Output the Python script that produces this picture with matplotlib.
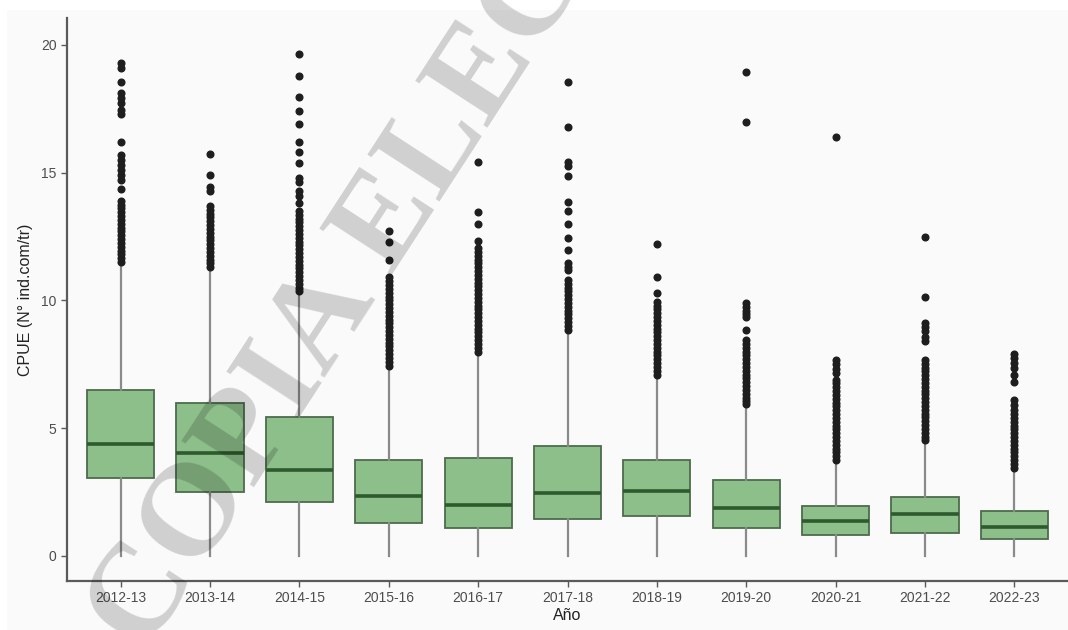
import matplotlib
matplotlib.use("Agg")
import matplotlib.pyplot as plt
from matplotlib.patches import Rectangle

# CPUE por temporada
seasons = ["2012-13", "2013-14", "2014-15", "2015-16", "2016-17", "2017-18",
           "2018-19", "2019-20", "2020-21", "2021-22", "2022-23"]
q1 = [3.05, 2.50, 2.11, 1.29, 1.10, 1.45, 1.57, 1.10, 0.82, 0.90, 0.67]
medians = [4.38, 4.03, 3.37, 2.35, 2.00, 2.47, 2.54, 1.88, 1.37, 1.64, 1.13]
q3 = [6.50, 5.99, 5.44, 3.76, 3.84, 4.30, 3.76, 2.97, 1.96, 2.31, 1.76]
whisker_low = [0, 0, 0, 0, 0, 0, 0, 0, 0, 0, 0]
whisker_high = [11.40, 11.20, 10.20, 7.30, 7.90, 8.70, 7.00, 5.80, 3.60, 4.35, 3.35]

outliers = [
    [19.3, 19.1, 18.55, 18.1, 17.93, 17.73, 17.46, 17.3, 16.2, 15.7, 15.5, 15.3,
     15.1, 14.9, 14.7, 14.36, 13.9, 13.75, 13.6, 13.45, 13.3, 13.15, 13.0, 12.85,
     12.7, 12.55, 12.4, 12.25, 12.1, 11.95, 11.8, 11.65, 11.5],
    [15.73, 14.9, 14.44, 14.29, 13.7, 13.55, 13.4, 13.25, 13.1, 12.95, 12.8, 12.65,
     12.5, 12.35, 12.2, 12.05, 11.9, 11.75, 11.6, 11.45, 11.3],
    [19.65, 18.8, 17.97, 17.4, 16.9, 16.2, 15.8, 15.37, 14.8, 14.65, 14.3, 14.1,
     13.8, 13.5, 13.35, 13.2, 13.05, 12.9, 12.75, 12.6, 12.45, 12.3, 12.15, 12.0,
     11.85, 11.7, 11.55, 11.4, 11.25, 11.1, 10.95, 10.8, 10.65, 10.5, 10.35],
    [12.7, 12.3, 11.6, 10.9, 10.75, 10.6, 10.45, 10.3, 10.15, 10.0, 9.85, 9.7,
     9.55, 9.4, 9.25, 9.1, 8.95, 8.8, 8.65, 8.5, 8.35, 8.2, 8.05, 7.9, 7.75,
     7.6, 7.45],
    [15.4, 13.45, 13.0, 12.33, 12.05, 11.9, 11.75, 11.6, 11.45, 11.3, 11.15, 11.0,
     10.85, 10.7, 10.55, 10.4, 10.25, 10.1, 9.95, 9.8, 9.65, 9.5, 9.35, 9.2,
     9.05, 8.9, 8.75, 8.6, 8.45, 8.3, 8.15, 8.0],
    [18.56, 16.8, 15.4, 15.26, 14.85, 13.86, 13.5, 13.0, 12.44, 11.98, 11.45, 11.3,
     11.2, 10.8, 10.65, 10.5, 10.35, 10.2, 10.05, 9.9, 9.75, 9.6, 9.45, 9.3,
     9.15, 9.0, 8.85],
    [12.2, 10.9, 10.3, 9.95, 9.8, 9.65, 9.5, 9.35, 9.2, 9.05, 8.9, 8.75, 8.6,
     8.45, 8.3, 8.15, 8.0, 7.85, 7.7, 7.55, 7.4, 7.25, 7.1],
    [18.94, 17.0, 9.9, 9.75, 9.6, 9.45, 9.35, 8.85, 8.45, 8.3, 8.15, 8.0, 7.85,
     7.7, 7.55, 7.4, 7.25, 7.1, 6.95, 6.8, 6.65, 6.5, 6.35, 6.2, 6.05, 5.95],
    [16.4, 7.67, 7.5, 7.33, 7.16, 6.9, 6.75, 6.6, 6.45, 6.3, 6.15, 6.0, 5.85,
     5.7, 5.55, 5.4, 5.25, 5.1, 4.95, 4.8, 4.65, 4.5, 4.35, 4.2, 4.05, 3.9, 3.75],
    [12.5, 10.15, 9.1, 8.95, 8.8, 8.55, 8.4, 7.67, 7.52, 7.37, 7.22, 7.07, 6.92,
     6.77, 6.62, 6.47, 6.32, 6.17, 6.02, 5.87, 5.72, 5.57, 5.42, 5.27, 5.12,
     4.97, 4.82, 4.67, 4.52],
    [7.9, 7.75, 7.55, 7.35, 7.1, 6.8, 6.1, 5.9, 5.7, 5.55, 5.4, 5.25, 5.1, 4.95,
     4.8, 4.65, 4.5, 4.35, 4.2, 4.05, 3.9, 3.75, 3.6, 3.45],
]

box_fill = "#8dbf8a"
box_edge = "#4d6b4d"
median_col = "#2e5a2e"
whisker_col = "#8a8a8a"
axis_col = "#5a5a5a"
text_col = "#4d4d4d"

plt.rcParams["font.family"] = ["Liberation Sans", "DejaVu Sans"]

fig = plt.figure(figsize=(10.68, 6.30), dpi=100)
fig.patch.set_facecolor("white")
# light plot background, slightly inset from the top-left
fig.patches.append(Rectangle((7 / 1068, 0), 1, 1 - 10 / 630, transform=fig.transFigure,
                             facecolor="#fafafa", edgecolor="none", zorder=-10))

ax = fig.add_axes([67 / 1068, 1 - 581 / 630, 1 - 67 / 1068, (581 - 18) / 630])
ax.set_facecolor("#fafafa")

stats = []
for i, name in enumerate(seasons):
    stats.append({
        "label": name,
        "q1": q1[i],
        "med": medians[i],
        "q3": q3[i],
        "whislo": whisker_low[i],
        "whishi": whisker_high[i],
        "fliers": outliers[i],
    })

ax.bxp(stats, positions=range(1, len(seasons) + 1), widths=0.75,
       patch_artist=True, showcaps=False,
       boxprops=dict(facecolor=box_fill, edgecolor=box_edge, linewidth=1.3),
       medianprops=dict(color=median_col, linewidth=2.6),
       whiskerprops=dict(color=whisker_col, linewidth=1.6),
       flierprops=dict(marker="o", markerfacecolor="#1e1e1e", markeredgecolor="#1e1e1e",
                       markersize=4.8, linestyle="none"))

ax.set_xlim(0.4, len(seasons) + 0.6)
ax.set_ylim(-0.98, 21.05)
ax.set_yticks([0, 5, 10, 15, 20])
ax.set_xticks(range(1, len(seasons) + 1))
ax.set_xticklabels(seasons)

for side in ["top", "right"]:
    ax.spines[side].set_visible(False)
for side in ["left", "bottom"]:
    ax.spines[side].set_color(axis_col)
    ax.spines[side].set_linewidth(1.6)

ax.tick_params(axis="both", colors=axis_col, labelcolor=text_col, labelsize=10,
               length=4, width=1)
ax.set_xlabel("Año", fontsize=11.5, color="#222222", labelpad=2)
ax.set_ylabel("CPUE (N° ind.com/tr)", fontsize=11.5, color="#222222", labelpad=6)

# watermark across the plot
fig.text(0.136, -0.04, "COPIA ELECTRÓNICA", fontsize=95, rotation=57,
         rotation_mode="anchor", ha="left", va="baseline", fontweight="bold",
         family=["Liberation Serif", "DejaVu Serif"], color="black", alpha=0.17,
         zorder=20)

fig.savefig("out.png", dpi=100, facecolor=fig.get_facecolor())
